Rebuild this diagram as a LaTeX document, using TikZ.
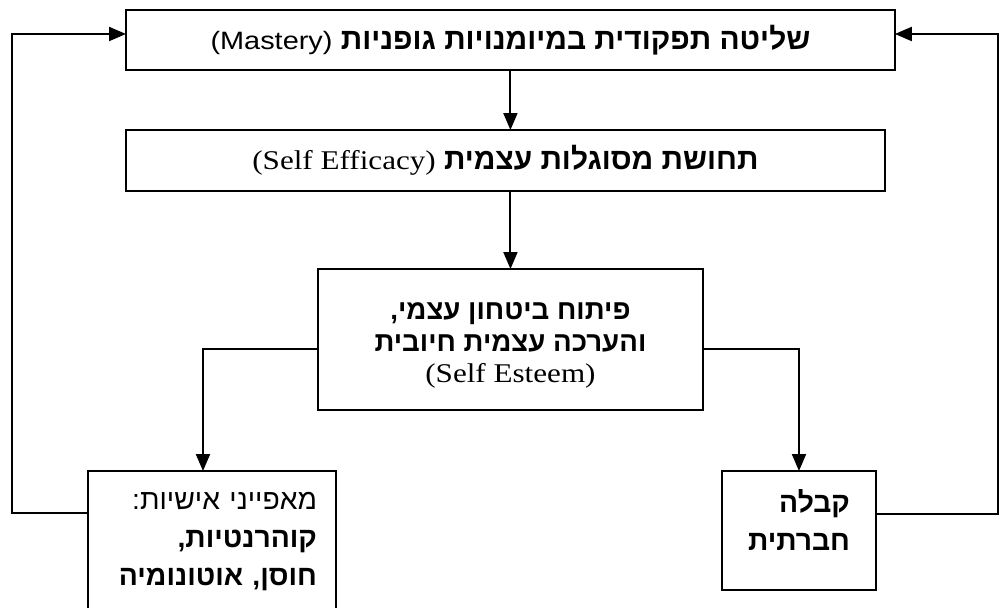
\documentclass[tikz,border=0pt]{standalone}
\usepackage{fontspec}
\setmainfont{Liberation Serif}[FakeStretch=1.15, Scale=1.1]
\newfontfamily\hebfont[Script=Hebrew]{Liberation Sans}
\newfontfamily\latsans[FakeStretch=1.15]{Liberation Sans}
\TeXXeTstate=1
\newcommand{\hebline}[1]{\beginR #1\endR}
\usetikzlibrary{%
  arrows.meta,%
  calc%
}

\begin{document}
\begin{tikzpicture}
  [
  x=0.02cm, y=-0.02cm,
  font=\hebfont\fontsize{15.75}{18}\selectfont, line width=1.15pt, >={Triangle[length=3.4mm,width=2.8mm]},
  flowbox/.style={rectangle, draw=black, inner sep=0pt, outer sep=0pt, anchor=north west},
  widebox/.style={flowbox, font=\hebfont\fontsize{17}{18}\selectfont},
  tallbox/.style={flowbox, font=\hebfont\fontsize{16.1}{21.6}\selectfont},
  ]
  \useasboundingbox (0,0) rectangle (1001,608);

  \node[widebox, minimum width=15.38cm, minimum height=1.2cm] (mastery) at (126,10)
    {\hebline{\textbf{שליטה תפקודית במיומנויות גופניות} \beginL{\latsans\fontsize{14.3}{18}\selectfont(Mastery)}\endL}};
  \node[widebox, minimum width=15.18cm, minimum height=1.22cm] (efficacy) at (126,130)
    {\hebline{\textbf{תחושת מסוגלות עצמית} \beginL{\rmfamily\fontsize{14}{18}\selectfont(Self Efficacy)}\endL}};
  \node[flowbox, minimum width=7.7cm, minimum height=2.82cm, align=center] (esteem) at (318,269)
    {\rule{0pt}{0.58cm}\hebline{\textbf{פיתוח ביטחון עצמי,}}\\
     \hebline{\textbf{והערכה עצמית חיובית}}\\
     {\rmfamily\fontsize{14}{18}\selectfont(Self Esteem)}};

  \node[tallbox, text width=4.2cm, inner xsep=0.38cm, minimum height=2.84cm, align=right] (persona) at (88,471)
    {\hebline{מאפייני אישיות:}\\
     \hebline{\textbf{קוהרנטיות,}}\\
     \hebline{\textbf{חוסן, אוטונומיה}}};
  \node[tallbox, minimum width=3.08cm, minimum height=2.38cm, align=right] (social) at (722,471)
    {\hebline{\textbf{קבלה}}\\
     \hebline{\textbf{חברתית}}\rule[-0.42cm]{0pt}{0pt}};

  % downward chain
  \draw[->] (mastery.south) -- (mastery.south |- efficacy.north);
  \draw[->] (efficacy.south -| esteem.north) -- (esteem.north);
  \draw[->] ($(esteem.west)+(0,10)$) -| ($(persona.north)+(-9,0)$);
  \draw[->] ($(esteem.east)+(0,10)$) -| (social.north);

  % feedback to the top
  \draw[->] ($(persona.north west)+(0,42)$) -- ++(-76,0) |- ($(mastery.west)+(0,-6)$);
  \draw[->] ($(social.north east)+(0,43)$) -- ++(122,0) |- ($(mastery.east)+(0,-6)$);
\end{tikzpicture}
\end{document}
